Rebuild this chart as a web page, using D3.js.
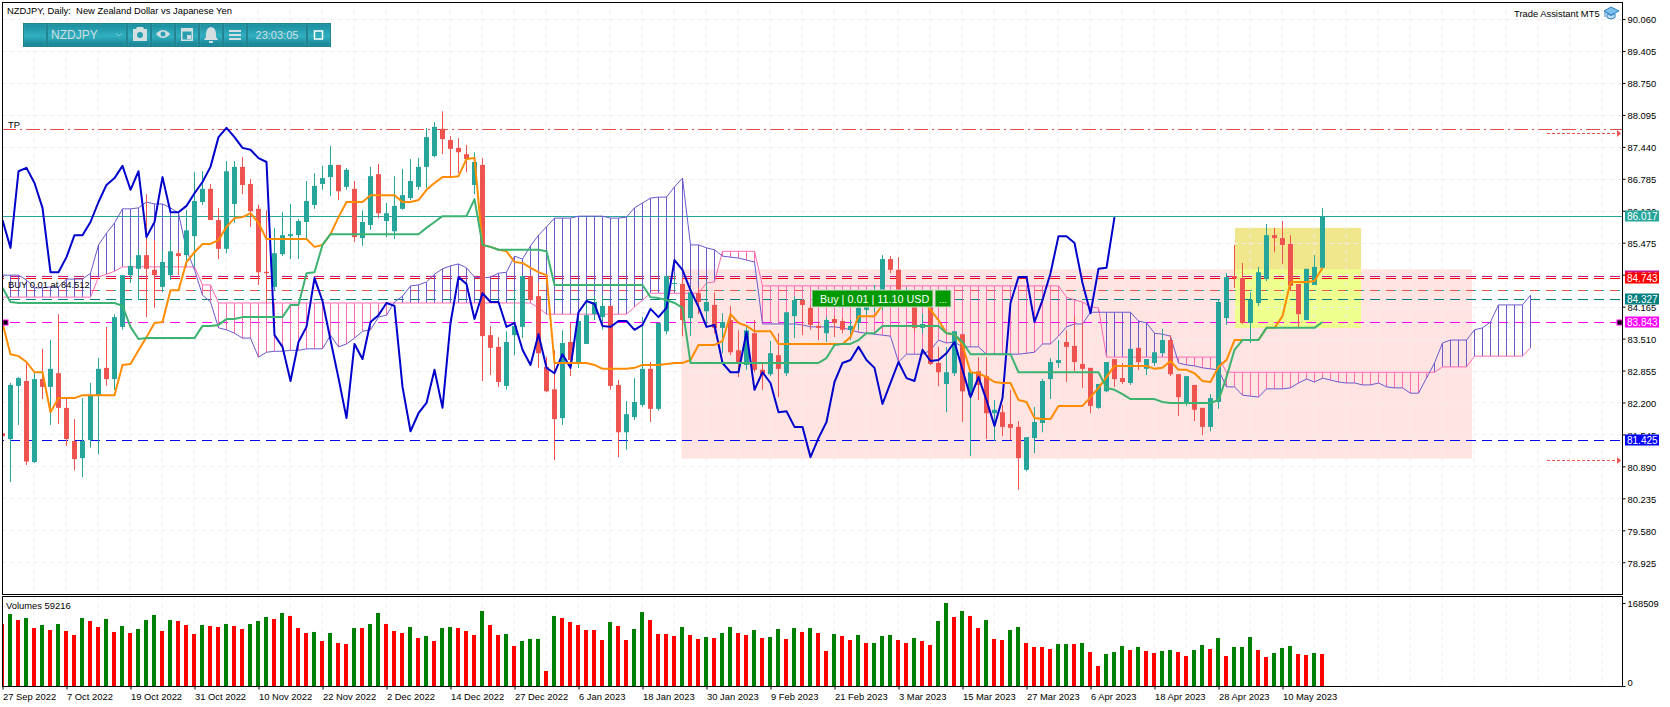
<!DOCTYPE html>
<html lang="en">
<head>
  <meta charset="UTF-8">
  <title>NZDJPY, Daily</title>
  <script src="https://d3js.org/d3.v7.min.js"></script>
  <style>
    body { margin: 0; background: #fff; }
    svg { display: block; }
    text { font-family: 'Liberation Sans', 'Noto Sans', sans-serif; font-size: 9.4px; }
    .axis path { display: none; }
    .axis line { stroke: #000; }
  </style>
</head>
<body>
<svg width="1670" height="707"></svg>
<script>
// daily candles, one entry per bar
const opens = [
  81.57,81.45,82.54,82.64,80.98,82.68,82.52,82.80,82.09,81.41,
  81.06,81.43,82.35,82.91,82.68,83.75,84.81,84.94,85.22,84.92,
  84.57,84.81,85.26,85.22,85.61,86.31,86.58,85.94,85.35,86.27,
  87.03,86.68,86.17,84.88,84.57,85.24,85.61,85.63,85.90,86.25,
  86.68,86.82,87.07,86.62,86.58,85.57,85.84,86.88,85.92,85.71,
  86.17,86.39,86.62,87.03,87.25,87.81,87.58,87.42,87.29,86.66,
  87.07,83.58,83.34,82.54,83.58,83.75,84.79,84.38,82.93,82.47,
  81.88,83.44,83.03,83.40,84.01,83.95,84.18,82.56,81.59,81.90,
  82.15,82.89,82.07,83.66,84.63,84.63,83.93,84.44,84.07,84.20,
  83.73,83.89,83.27,82.97,83.62,82.87,82.78,83.17,82.80,83.97,
  84.30,84.14,83.77,83.62,83.91,83.87,83.69,83.83,84.10,84.21,
  84.46,85.14,84.92,84.24,84.16,83.73,84.36,83.01,82.58,82.80,
  83.60,82.35,82.84,82.74,81.98,82.00,81.76,81.70,80.82,81.47,
  81.78,82.68,83.01,83.44,83.36,82.99,82.91,82.09,82.43,83.09,
  82.70,82.60,83.32,82.89,83.01,83.21,83.48,82.78,82.17,82.56,
  82.09,81.70,82.21,83.93,84.79,84.75,83.83,84.24,84.73,85.63,
  85.57,85.45,84.63,83.89,84.61,84.96];
const highs = [
  81.74,82.60,82.72,83.01,82.82,83.30,83.48,84.01,82.29,81.86,
  82.29,82.60,83.11,83.75,84.01,84.81,85.16,85.33,86.47,85.53,
  85.33,85.53,85.33,86.14,86.92,86.94,86.68,86.19,87.15,87.15,
  87.23,86.78,86.25,86.14,85.78,86.10,86.27,85.96,86.74,86.90,
  87.05,87.46,87.07,87.01,86.74,86.14,87.03,87.09,86.29,86.84,
  86.99,87.19,87.21,87.83,87.95,88.17,87.66,87.62,87.48,87.33,
  87.21,83.77,83.54,83.66,84.50,84.81,84.81,84.67,83.13,83.27,
  83.68,83.83,84.03,84.30,84.38,84.40,84.18,82.66,82.23,82.70,
  83.95,83.03,83.83,84.81,84.81,84.75,84.57,84.57,84.67,84.46,
  84.03,84.18,83.68,83.77,83.89,83.03,83.46,83.62,84.05,84.38,
  84.30,84.20,83.85,83.95,83.99,83.93,83.89,84.30,84.50,84.61,
  85.22,85.20,85.18,84.55,84.38,84.03,84.36,83.34,83.34,83.66,
  83.60,82.87,83.13,83.13,82.25,82.15,82.46,81.82,81.49,82.11,
  82.68,83.11,83.48,83.68,83.99,83.83,82.91,82.58,83.03,83.09,
  83.01,83.30,83.32,83.09,83.23,83.71,83.58,82.78,82.74,82.56,
  82.09,82.37,84.30,84.85,85.43,85.06,84.46,84.98,85.86,85.78,
  85.92,85.63,84.63,84.94,85.22,86.19];
const lows = [
  81.43,80.57,81.74,80.92,80.96,82.27,81.74,81.76,81.31,80.81,
  80.67,81.27,81.14,82.54,82.46,83.69,84.65,84.30,83.95,84.14,
  84.46,84.71,84.81,85.02,84.98,86.25,85.94,85.14,85.26,85.88,
  86.47,85.80,84.61,84.24,84.50,85.20,85.14,85.14,85.53,86.17,
  86.56,86.43,86.35,86.56,85.49,85.41,85.74,85.98,85.59,85.55,
  86.15,86.35,86.56,86.60,87.23,87.29,86.82,86.90,86.92,86.47,
  82.64,82.76,82.52,82.46,83.17,83.52,84.26,82.91,82.41,81.02,
  81.74,82.74,82.91,83.40,83.89,83.69,82.46,81.08,81.23,81.84,
  82.11,81.80,82.03,83.60,84.50,83.56,83.56,84.01,83.75,83.62,
  83.21,83.17,82.72,82.87,82.82,82.46,82.74,82.31,82.74,83.52,
  83.58,83.69,83.48,83.44,83.54,83.62,83.48,83.69,83.99,84.05,
  84.09,84.85,84.40,84.18,83.64,83.62,82.97,82.54,82.00,82.74,
  81.80,81.10,82.25,81.45,81.41,81.51,81.43,80.41,80.79,81.16,
  81.59,82.27,82.91,82.62,82.84,82.50,81.98,82.07,82.41,82.52,
  82.58,82.56,82.87,82.76,82.95,83.19,82.74,81.92,82.13,81.82,
  81.53,81.61,82.07,83.79,84.55,83.81,83.42,84.18,84.69,85.28,
  85.04,84.50,83.75,83.89,84.61,84.92];
const closes = [
  81.51,82.56,82.70,80.99,82.68,82.52,82.89,82.09,81.45,81.04,
  81.41,82.35,82.89,82.68,83.95,84.81,85.00,85.22,84.94,84.81,
  85.08,85.30,85.20,85.73,86.33,86.58,85.94,85.35,86.94,87.03,
  86.66,86.12,84.87,84.85,85.26,85.63,85.65,85.92,86.33,86.64,
  86.80,87.07,86.53,86.97,85.59,85.90,86.84,86.08,86.08,86.23,
  86.45,86.74,87.03,87.64,87.85,87.60,87.40,87.33,87.19,87.13,
  83.56,83.32,82.62,83.44,83.77,84.79,84.30,83.21,82.43,81.86,
  83.42,83.07,83.87,83.99,84.26,84.18,82.54,81.59,81.96,82.21,
  82.89,82.07,83.83,84.79,84.65,83.89,84.46,84.26,84.26,83.73,
  83.85,83.23,83.01,83.68,82.87,82.76,83.21,82.89,84.05,84.30,
  84.20,83.79,83.73,83.89,83.83,83.69,83.77,84.14,84.30,84.38,
  85.14,84.92,84.50,84.44,83.73,83.81,82.99,82.82,82.82,83.66,
  82.43,82.82,82.56,81.98,82.05,81.70,81.68,81.06,81.49,81.80,
  82.64,83.03,83.07,83.34,83.03,82.89,82.13,82.58,83.03,82.68,
  82.62,83.30,83.03,83.09,83.23,83.48,82.78,82.31,82.74,82.05,
  81.70,82.29,84.26,84.77,84.75,83.83,84.30,84.87,85.63,85.57,
  85.43,84.59,84.01,84.94,84.98,86.017];

// ichimoku lines
const tenkan = [
  83.83,83.19,83.15,83.03,82.82,82.82,82.00,82.29,82.29,82.29,
  82.35,82.35,82.35,82.35,82.35,82.97,82.99,83.27,83.54,83.83,
  83.85,84.50,84.50,85.08,85.28,85.45,85.45,85.53,85.80,85.98,
  86.00,86.08,85.88,85.55,85.55,85.55,85.55,85.55,85.55,85.39,
  85.43,85.65,86.00,86.31,86.31,86.31,86.45,86.45,86.45,86.45,
  86.31,86.31,86.35,86.56,86.70,86.82,86.82,86.84,87.19,87.21,
  85.43,85.39,85.33,85.30,85.08,85.06,84.96,84.87,84.81,83.01,
  83.01,83.01,83.01,83.01,82.97,82.89,82.89,82.89,82.89,82.91,
  82.97,82.97,82.97,82.99,83.01,83.01,83.07,83.38,83.38,83.38,
  83.46,84.01,83.83,83.77,83.66,83.66,83.66,83.40,83.40,83.40,
  83.40,83.40,83.40,83.40,83.40,83.40,83.54,83.97,83.97,83.97,
  84.20,84.30,84.30,84.30,84.30,84.30,84.10,83.89,83.62,83.60,
  83.38,82.82,82.80,82.72,82.62,82.60,82.60,82.25,82.21,81.88,
  81.86,81.86,82.13,82.13,82.13,82.13,82.31,82.50,82.72,82.95,
  82.95,82.95,82.95,82.95,82.89,82.91,83.05,82.87,82.87,82.80,
  82.64,82.62,82.93,83.07,83.48,83.48,83.48,83.48,83.73,83.73,
  83.97,84.67,84.67,84.67,84.69,84.96];
const kijun = [
  84.55,84.26,84.24,84.24,84.24,84.24,84.24,84.24,84.24,84.24,
  84.24,84.24,84.24,84.24,84.24,84.18,83.75,83.50,83.52,83.52,
  83.52,83.52,83.52,83.52,83.52,83.77,83.77,83.79,83.91,83.91,
  83.95,83.95,83.95,83.95,83.95,83.95,84.20,84.20,84.85,84.87,
  85.43,85.65,85.65,85.65,85.65,85.65,85.65,85.65,85.65,85.65,
  85.65,85.65,85.65,85.78,85.90,86.02,86.02,86.02,86.02,86.37,
  85.43,85.39,85.33,85.33,85.33,85.33,85.33,85.33,85.30,84.61,
  84.61,84.61,84.61,84.61,84.61,84.61,84.61,84.61,84.61,84.61,
  84.61,84.36,84.34,84.30,84.24,84.14,83.01,83.01,83.01,83.01,
  83.01,83.01,83.01,83.01,83.01,83.01,83.01,83.01,83.01,83.01,
  83.01,83.01,83.01,83.11,83.38,83.40,83.40,83.48,83.62,83.62,
  83.77,83.77,83.77,83.77,83.77,83.77,83.77,83.77,83.62,83.60,
  83.44,83.19,83.19,83.19,83.19,83.19,83.19,82.82,82.82,82.82,
  82.82,82.82,82.82,82.82,82.82,82.82,82.82,82.82,82.50,82.46,
  82.37,82.27,82.27,82.27,82.27,82.21,82.19,82.19,82.19,82.19,
  82.19,82.19,82.25,82.72,83.28,83.48,83.48,83.48,83.73,83.73,
  83.73,83.73,83.73,83.73,83.73,83.85];
const chikou = [
  85.94,85.37,86.94,87.01,86.70,86.19,84.87,84.87,85.18,85.63,
  85.63,85.90,86.31,86.66,86.80,87.05,86.56,86.94,85.59,85.90,
  86.82,86.10,86.10,86.23,86.49,86.72,87.03,87.64,87.83,87.64,
  87.42,87.38,87.21,87.13,83.58,83.34,82.64,83.44,83.75,84.75,
  84.28,83.48,82.70,81.88,83.40,83.09,83.85,83.99,84.24,84.18,
  82.52,81.61,81.98,82.19,82.87,82.09,83.83,84.77,84.63,83.91,
  84.44,84.26,84.26,83.75,83.83,83.28,82.97,83.60,82.91,82.80,
  83.19,82.91,84.05,84.28,84.22,83.77,83.75,83.87,83.87,83.69,
  83.79,84.12,83.95,84.14,85.12,84.92,84.50,84.16,83.75,83.79,
  83.01,82.82,82.82,83.64,82.46,82.82,82.60,82.00,82.02,81.70,
  81.70,81.08,81.47,81.80,82.62,83.01,83.07,83.34,83.07,82.91,
  82.17,82.60,83.03,82.70,82.64,83.28,83.05,83.07,83.21,83.44,
  82.87,82.31,82.72,82.25,81.72,82.29,84.24,84.77,84.77,83.85,
  84.30,84.85,85.61,85.61,85.47,84.65,84.03,84.94,84.96,86.00];
// the cloud runs 26 bars past the last candle
const senkouA = [
  84.81,84.81,84.81,84.71,84.55,84.55,84.57,84.57,84.73,84.73,
  84.73,84.85,85.43,85.67,85.88,86.17,86.17,86.19,86.31,86.27,
  86.27,86.19,86.08,85.33,84.92,84.40,84.26,83.73,83.69,83.62,
  83.52,83.52,83.13,83.23,83.25,83.25,83.27,83.27,83.30,83.30,
  83.30,83.58,83.34,83.40,83.52,83.66,83.69,83.95,83.99,84.26,
  84.38,84.59,84.61,84.67,84.83,84.94,85.00,85.04,84.96,84.77,
  84.75,84.77,84.85,84.87,85.20,85.14,85.41,85.63,85.80,85.98,
  85.98,85.98,86.02,86.02,86.02,86.02,85.98,85.98,86.00,86.19,
  86.29,86.39,86.41,86.41,86.62,86.80,85.43,85.43,85.37,85.33,
  85.20,85.18,85.16,85.12,85.08,83.81,83.81,83.81,83.81,83.81,
  83.79,83.75,83.75,83.75,83.75,83.73,83.69,83.64,83.62,83.60,
  83.58,83.56,83.03,83.19,83.19,83.19,83.27,83.48,83.42,83.44,
  83.34,83.34,83.34,83.19,83.19,83.19,83.19,83.19,83.21,83.23,
  83.40,83.40,83.56,83.75,83.81,83.81,84.05,84.05,84.05,84.05,
  84.05,84.05,83.87,83.83,83.62,83.60,83.56,83.01,82.97,82.95,
  82.91,82.89,82.87,82.52,82.52,82.35,82.33,82.31,82.48,82.48,
  82.48,82.50,82.60,82.68,82.62,82.70,82.66,82.62,82.60,82.60,
  82.56,82.56,82.60,82.52,82.50,82.50,82.39,82.39,82.70,83.01,
  83.42,83.48,83.48,83.48,83.69,83.73,83.85,84.20,84.20,84.20,
  84.20,84.40];
const senkouB = [
  84.36,84.36,84.36,84.36,84.36,84.36,84.36,84.36,84.36,84.36,
  84.36,84.36,84.77,84.83,84.89,84.98,84.98,84.98,84.98,84.98,
  84.98,84.98,84.98,84.98,84.98,84.61,84.61,84.24,84.24,84.24,
  84.24,84.24,84.24,84.24,84.24,84.24,84.24,84.24,84.24,84.24,
  84.24,84.24,84.24,84.24,84.24,84.24,84.24,84.24,84.24,84.24,
  84.24,84.24,84.24,84.24,84.24,84.24,84.24,84.24,84.24,84.24,
  84.24,84.24,84.24,84.24,84.24,84.24,84.24,84.14,84.01,84.01,
  84.01,84.01,84.01,84.01,84.01,84.01,84.01,84.01,84.01,84.16,
  84.30,84.44,84.44,84.44,84.44,84.44,84.44,84.44,84.65,84.67,
  85.30,85.30,85.30,85.30,85.30,84.59,84.59,84.59,84.59,84.59,
  84.59,84.59,84.59,84.59,84.59,84.59,84.59,84.59,84.59,84.59,
  84.59,84.59,84.59,84.59,84.59,84.59,84.59,84.59,84.59,84.59,
  84.59,84.59,84.59,84.59,84.59,84.59,84.59,84.59,84.59,84.59,
  84.59,84.59,84.59,84.36,84.30,84.26,84.16,84.14,83.13,83.13,
  83.13,83.13,83.13,83.13,83.13,83.13,83.13,83.13,83.13,83.13,
  83.13,83.13,83.13,82.82,82.82,82.82,82.82,82.82,82.82,82.82,
  82.82,82.82,82.82,82.82,82.82,82.82,82.82,82.82,82.82,82.82,
  82.82,82.82,82.82,82.82,82.82,82.82,82.82,82.82,82.82,82.82,
  82.93,82.93,82.93,82.93,83.15,83.15,83.15,83.15,83.15,83.15,
  83.15,83.32];

// volumes in thousands of ticks; R/G is the colour MT5 gave the bar
const volumes = [
  125.9,146.2,134.0,138.1,117.8,123.9,113.7,125.9,111.7,103.6,
  138.1,132.0,119.8,136.1,109.7,121.9,107.6,115.8,134.0,144.2,
  111.7,134.0,132.0,123.9,105.6,123.9,121.9,119.8,125.9,121.9,
  115.8,125.9,132.0,140.1,136.1,148.3,142.2,117.8,107.6,109.7,
  91.4,107.6,87.3,85.3,117.8,117.8,125.9,148.3,125.9,111.7,
  107.6,119.8,97.5,101.6,91.4,117.8,119.8,117.8,111.7,103.6,
  152.3,123.9,103.6,105.6,81.2,91.4,95.5,95.5,30.5,142.2,
  138.1,130.0,123.9,113.7,113.7,93.4,130.0,121.9,93.4,115.8,
  150.3,134.0,105.6,105.6,101.6,119.8,103.6,95.5,99.5,97.5,
  107.6,119.8,107.6,103.6,113.7,97.5,99.5,115.8,95.5,117.8,
  109.7,117.8,107.6,71.1,105.6,101.6,93.4,103.6,87.3,87.3,
  101.6,103.6,93.4,87.3,97.5,91.4,83.3,132.0,168.5,140.1,
  152.3,142.2,117.8,134.0,95.5,93.4,113.7,119.8,87.3,79.2,
  79.2,75.1,85.3,85.3,85.3,87.3,69.1,40.6,65.0,69.1,
  81.2,73.1,79.2,71.1,67.0,71.1,73.1,69.1,60.9,73.1,
  83.3,75.1,97.5,60.9,79.2,79.2,99.5,73.1,58.9,67.0,
  77.2,81.2,65.0,63.0,67.0,65.0];
const volumeDir =
  "RGRGRGRGRRGRRGRGRGGGRGRRRGRRGRRGGGRGRRRGRGRRGRGGRRRGRGRGGRRRGRRGRGGGRGRRRRRRGRRGGRRRRGRRGRGGRRGRGGRGRGRRGRRGRGGGRRGRRGGRGRRGRRGGRRRRGGRGRRGGGRGRRGGRRGGRGRGGGRRGGGRRGR";

const priceTicks = [90.06,89.405,88.75,88.095,87.44,86.785,86.13,85.475,84.82,84.165,83.51,82.855,82.2,81.545,80.89,80.235,79.58,78.925];
const dateTicks = ["27 Sep 2022","7 Oct 2022","19 Oct 2022","31 Oct 2022","10 Nov 2022","22 Nov 2022","2 Dec 2022","14 Dec 2022","27 Dec 2022","6 Jan 2023","18 Jan 2023","30 Jan 2023","9 Feb 2023","21 Feb 2023","3 Mar 2023","15 Mar 2023","27 Mar 2023","6 Apr 2023","18 Apr 2023","28 Apr 2023","10 May 2023"];

// horizontal levels drawn on the chart
const levelPrices = [84.80, 84.743, 84.512, 84.327, 83.843, 81.425];
const levelColors = ["#c71585", "#ff0000", "#ef5350", "#008080", "#ff00ff", "#0000ff"];
const tpPrice = 87.80;
const bidPrice = 86.017;

const svg = d3.select("svg");
const left = 2, right = 1622, mainTop = 2, mainBottom = 594, volTop = 596, volBottom = 686;

const x = d3.scaleLinear().domain([0, 191]).range([2, 1530]);
const y = d3.scaleLinear().domain([78.274, 90.41]).range([mainBottom, mainTop]);
const yVol = d3.scaleLinear().domain([0, 168.509]).range([volBottom, 603]);

const teal = "#26a69a", red = "#ef5350";

svg.append("defs").append("clipPath").attr("id", "mainClip")
  .append("rect").attr("x", left).attr("y", mainTop)
  .attr("width", right - left).attr("height", mainBottom - mainTop);
svg.append("clipPath").attr("id", "volClip")
  .append("rect").attr("x", left).attr("y", volTop)
  .attr("width", right - left).attr("height", volBottom - volTop);

const main = svg.append("g").attr("clip-path", "url(#mainClip)");

// the two zones, with the overlap in MT5's xor-ish colour
const zone = (x0, x1, p0, p1, color) => main.append("rect")
  .attr("x", x(x0)).attr("width", x(x1) - x(x0))
  .attr("y", y(p0)).attr("height", y(p1) - y(p0))
  .attr("fill", color);
zone(84.93, 183.75, 84.93, 81.05, "#ffe4e1");
zone(154.13, 169.88, 85.78, 83.73, "#f0e68c");
zone(154.13, 169.88, 84.93, 83.73, "#eeff8f");

// grid
const vGrid = d3.range(0, 203, 4);
main.append("g").selectAll("line").data(vGrid).join("line")
  .attr("x1", d => x(d)).attr("x2", d => x(d))
  .attr("y1", mainTop).attr("y2", mainBottom);
main.append("g").selectAll("line").data(priceTicks).join("line")
  .attr("x1", left).attr("x2", right)
  .attr("y1", d => Math.round(y(d)) + 0.5).attr("y2", d => Math.round(y(d)) + 0.5);
main.selectAll("g line")
  .attr("stroke", "#f0ecee").attr("stroke-dasharray", "4 4");

// level lines
levelPrices.forEach((p, i) => {
  const yy = Math.round(y(p)) + 0.5;
  if (p === 84.512) {
    main.append("line").attr("x1", left).attr("x2", right).attr("y1", yy).attr("y2", yy)
      .attr("stroke", teal).attr("stroke-dasharray", "10 6").attr("stroke-dashoffset", 8);
  }
  main.append("line").attr("x1", left).attr("x2", right).attr("y1", yy).attr("y2", yy)
    .attr("stroke", levelColors[i]).attr("stroke-dasharray", p === 84.512 ? "8 8" : "10 6")
    .attr("stroke-dashoffset", 8);
});
const tpY = Math.round(y(tpPrice)) + 0.5;
main.append("line").attr("x1", left).attr("x2", right).attr("y1", tpY).attr("y2", tpY)
  .attr("stroke", "#e04c4c").attr("stroke-dasharray", "14 4 2 4");
const bidY = Math.round(y(bidPrice)) + 0.5;
main.append("line").attr("x1", left).attr("x2", right).attr("y1", bidY).attr("y2", bidY)
  .attr("stroke", teal);

// cloud hatching, one line per bar, colour follows which span is on top
main.append("g").selectAll("line").data(senkouA).join("line")
  .attr("x1", (d, i) => Math.round(x(i)) + 0.5).attr("x2", (d, i) => Math.round(x(i)) + 0.5)
  .attr("y1", d => y(d)).attr("y2", (d, i) => y(senkouB[i]))
  .attr("stroke", (d, i) => d >= senkouB[i] ? "#6a5acd" : "#ff69b4");

const line = d3.line().x((d, i) => x(i) + 0.5).y(d => y(d));
const drawLine = (data, color, w) => main.append("path")
  .attr("d", line(data)).attr("fill", "none")
  .attr("stroke", color).attr("stroke-width", w).attr("stroke-linejoin", "round");
drawLine(senkouB, "#ff69b4", 1);
drawLine(senkouA, "#6a5acd", 1);

// candles
const candle = main.append("g").selectAll("g").data(opens).join("g")
  .attr("fill", (d, i) => closes[i] >= d ? teal : red);
candle.append("rect")
  .attr("x", (d, i) => x(i)).attr("width", 1)
  .attr("y", (d, i) => y(highs[i])).attr("height", (d, i) => y(lows[i]) - y(highs[i]));
candle.append("rect")
  .attr("x", (d, i) => x(i) - 2).attr("width", 5)
  .attr("y", (d, i) => y(Math.max(d, closes[i])))
  .attr("height", (d, i) => Math.max(1, Math.abs(y(d) - y(closes[i]))));

drawLine(chikou, "#0000cd", 2);
drawLine(tenkan, "#ff8c00", 2);
drawLine(kijun, "#3cb371", 2);

// dotted arrows on the right
[tpPrice - 0.08, 81.03].forEach(p => {
  const yy = Math.round(y(p)) + 0.5;
  main.append("line").attr("x1", 1547).attr("x2", 1617).attr("y1", yy).attr("y2", yy)
    .attr("stroke", red).attr("stroke-dasharray", "3 2");
  main.append("path").attr("d", `M1617,${yy - 3.5}L1621,${yy}L1617,${yy + 3.5}Z`).attr("fill", red);
});

// order handles
[3, 1617].forEach(hx => {
  const hy = Math.round(y(83.843));
  main.append("rect").attr("x", hx).attr("y", hy - 2).attr("width", 5).attr("height", 5).attr("fill", "#000")
    .attr("stroke", "#ff00ff");
});

// labels on the chart
svg.append("text").attr("x", 7).attr("y", 13.5).text("NZDJPY, Daily:  New Zealand Dollar vs Japanese Yen").attr("xml:space", "preserve");
svg.append("text").attr("x", 8).attr("y", 127.5).text("TP");
svg.append("text").attr("x", 8).attr("y", 287.5).text("BUY 0.01 at 84.512");
svg.append("text").attr("x", 1514).attr("y", 17).text("Trade Assistant MT5");

// mortarboard icon
const cap = svg.append("g").attr("transform", "translate(1604,7)");
cap.append("path").attr("d", "M7,0L15,4L7,8L0,4Z").attr("fill", "#7cc0ee").attr("stroke", "#2a7fc0");
cap.append("path").attr("d", "M3,6.5V10.5Q7,13.5 11,10.5V6.5L7,8.5Z").attr("fill", "#bfe0f6").attr("stroke", "#2a7fc0");
cap.append("path").attr("d", "M1,4.5V10").attr("stroke", "#2a7fc0").attr("fill", "none");

// buy label
const buy = svg.append("g");
buy.append("rect").attr("x", 812).attr("y", 290).attr("width", 121).attr("height", 17).attr("fill", "#009900").attr("stroke", "#d8d8d8");
buy.append("rect").attr("x", 935).attr("y", 290).attr("width", 16).attr("height", 17).attr("fill", "#009900").attr("stroke", "#d8d8d8");
buy.append("text").attr("x", 820).attr("y", 302.5).attr("fill", "#fff").style("font-size", "10.8px").text("Buy | 0.01 | 11.10 USD");
buy.append("text").attr("x", 943).attr("y", 302.5).attr("text-anchor", "middle").attr("fill", "#fff").text("...");

// toolbar
const grad = svg.append("defs").append("linearGradient").attr("id", "tb").attr("x1", 0).attr("x2", 0).attr("y1", 0).attr("y2", 1);
grad.append("stop").attr("offset", "0%").attr("stop-color", "#1b8d9e");
grad.append("stop").attr("offset", "55%").attr("stop-color", "#2fb0c1");
grad.append("stop").attr("offset", "100%").attr("stop-color", "#16808f");
const tb = svg.append("g");
tb.append("rect").attr("x", 23).attr("y", 23).attr("width", 308).attr("height", 24).attr("fill", "#137887");
const cells = [[24, 22], [48, 78], [128, 22], [152, 22], [176, 22], [200, 22], [224, 22], [248, 58], [308, 22]];
tb.selectAll("rect.cell").data(cells).join("rect").attr("class", "cell")
  .attr("x", d => d[0]).attr("y", 24).attr("width", d => d[1]).attr("height", 22)
  .attr("fill", "url(#tb)").attr("stroke", "#4aa9b6").attr("stroke-width", 0.5);
const ic = "#d5dfe2";
tb.append("text").attr("x", 51).attr("y", 39).attr("fill", ic).style("font-size", "12px").text("NZDJPY");
tb.append("path").attr("d", "M116,33l3,3l3,-3").attr("fill", "none").attr("stroke", "#7fc5cf");
tb.append("text").attr("x", 277).attr("y", 39).attr("text-anchor", "middle").attr("fill", ic).style("font-size", "11px").text("23:03:05");
// camera
tb.append("path").attr("d", "M133,29h3l1,-2h6l1,2h3v12h-14Z").attr("fill", ic);
tb.append("circle").attr("cx", 140).attr("cy", 35).attr("r", 3).attr("fill", "#2a9fb0");
// eye
tb.append("path").attr("d", "M156,34Q163,26 170,34Q163,42 156,34Z").attr("fill", ic);
tb.append("circle").attr("cx", 163).attr("cy", 34).attr("r", 2.5).attr("fill", "#2a9fb0");
// calendar
tb.append("rect").attr("x", 181).attr("y", 28).attr("width", 12).attr("height", 13).attr("fill", ic);
tb.append("rect").attr("x", 182.5).attr("y", 31.5).attr("width", 9).attr("height", 8).attr("fill", "#2a9fb0");
tb.append("rect").attr("x", 187).attr("y", 35).attr("width", 4).attr("height", 4).attr("fill", ic);
// bell
tb.append("path").attr("d", "M211,27q5,1 5,7v3l2,3h-14l2,-3v-3q0,-6 5,-7Z").attr("fill", ic);
tb.append("rect").attr("x", 209).attr("y", 41).attr("width", 4).attr("height", 2).attr("fill", ic);
// menu
[30, 34, 38].forEach(b => tb.append("rect").attr("x", 229).attr("y", b).attr("width", 12).attr("height", 2).attr("fill", ic));
// window
tb.append("rect").attr("x", 314.5).attr("y", 31).attr("width", 8).attr("height", 8).attr("fill", "none").attr("stroke", "#fff").attr("stroke-width", 1.5);

// volume pane
const vol = svg.append("g").attr("clip-path", "url(#volClip)");
vol.append("g").selectAll("line").data(vGrid).join("line")
  .attr("x1", d => x(d)).attr("x2", d => x(d)).attr("y1", volTop).attr("y2", volBottom)
  .attr("stroke", "#f0ecee").attr("stroke-dasharray", "4 4");
vol.append("g").selectAll("rect").data(volumes).join("rect")
  .attr("x", (d, i) => x(i) - 2).attr("width", 4)
  .attr("y", d => yVol(d)).attr("height", d => volBottom - yVol(d))
  .attr("fill", (d, i) => volumeDir[i] === "G" ? "#008000" : "#ff0000");
svg.append("text").attr("x", 6).attr("y", 609).text("Volumes 59216");

// frames
const frame = (x0, y0, x1, y1) => svg.append("rect")
  .attr("x", x0 + 0.5).attr("y", y0 + 0.5).attr("width", x1 - x0).attr("height", y1 - y0)
  .attr("fill", "none").attr("stroke", "#000");
frame(left, mainTop, right, mainBottom);
frame(left, volTop, right, volBottom);

// price axis
const priceAxis = d3.axisRight(y).tickValues(priceTicks).tickFormat(d3.format(".3f")).tickSize(3).tickPadding(2);
svg.append("g").attr("class", "axis").attr("transform", `translate(${right + 0.5},0)`).call(priceAxis)
  .selectAll("text").attr("dy", "0.4em").style("font-size", "9.4px").attr("fill", "#000");

// volume axis
const volAxis = d3.axisRight(yVol).tickValues([168.509, 0]).tickFormat(d => d ? "168509" : "0").tickSize(3).tickPadding(2);
const volG = svg.append("g").attr("class", "axis").attr("transform", `translate(${right + 0.5},0)`).call(volAxis);
volG.selectAll("text").attr("dy", d => d ? "0.32em" : "-0.1em").style("font-size", "9.4px").attr("fill", "#000");

// date axis, labels hang off the tick to the right
const dateAxis = d3.axisBottom(x).tickValues(dateTicks.map((d, i) => i * 8))
  .tickFormat((d, i) => dateTicks[i]).tickSize(3).tickPadding(4);
const dateG = svg.append("g").attr("class", "axis").attr("transform", `translate(0.5,${volBottom + 0.5})`).call(dateAxis);
dateG.selectAll("text").attr("text-anchor", "start").style("font-size", "9.4px").attr("fill", "#000");

// price boxes on top of the axis
const boxes = [["86.017", bidPrice, teal], ["84.804", 84.80, "#c71585"], ["84.743", 84.743, "#ff0000"], ["84.327", 84.327, "#008080"], ["83.843", 83.843, "#ff00ff"], ["81.425", 81.425, "#0000ff"]];
const boxG = svg.append("g").selectAll("g").data(boxes).join("g")
  .attr("transform", d => `translate(1625,${Math.round(y(d[1]))})`);
boxG.append("rect").attr("y", -5.5).attr("width", 34).attr("height", 11).attr("fill", d => d[2]);
boxG.append("text").attr("x", 2).attr("y", 4).attr("fill", "#fff").style("font-size", "10px").text(d => d[0]);
</script>
</body>
</html>
